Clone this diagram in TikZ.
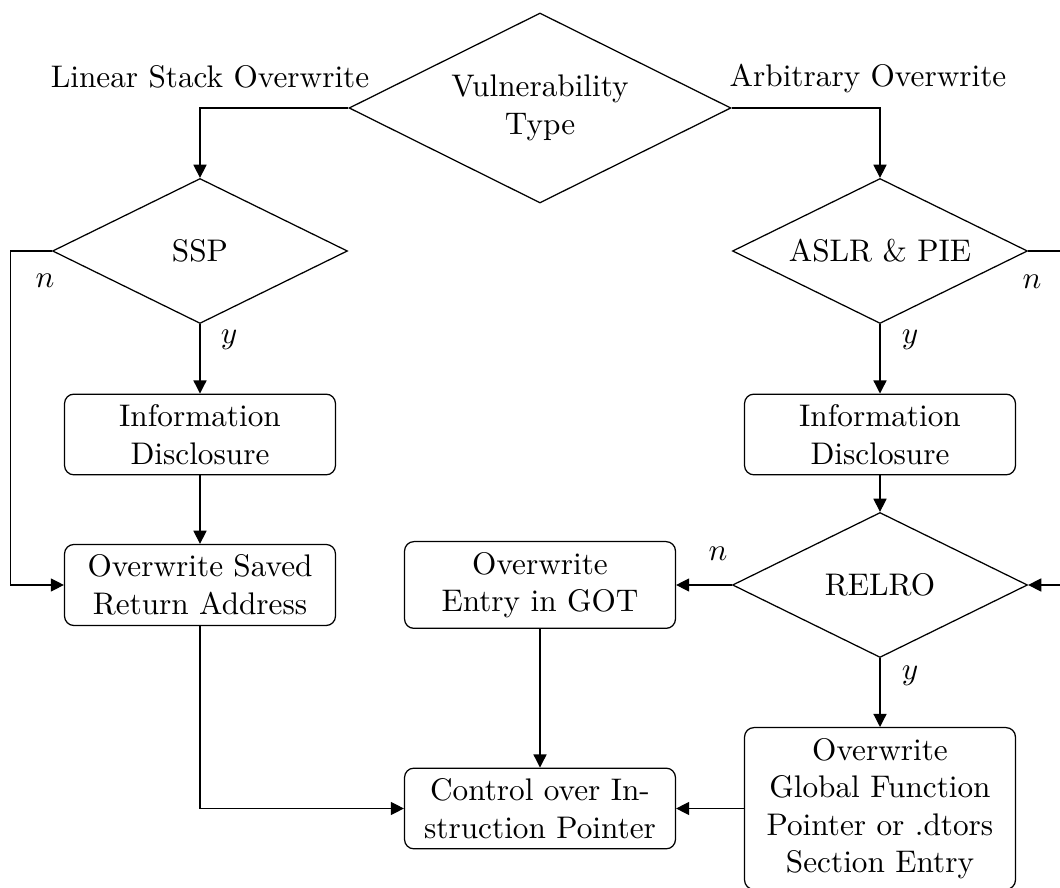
\documentclass[tikz,border=0pt]{standalone}
\usetikzlibrary{shapes.geometric,arrows.meta}
\begin{document}
\begin{tikzpicture}[x=0.32pt,y=-0.32pt,
  box/.style={draw, rounded corners=3pt, align=center, minimum width=86.7pt, inner sep=3.33pt},
  dec/.style={draw, diamond, aspect=2, align=center, minimum width=94.4pt, minimum height=46.4pt, inner sep=1pt},
  arr/.style={-{Triangle[length=4.2pt,width=4.2pt]}},
  lbl/.style={inner sep=0pt}]
\useasboundingbox (0,0) rectangle (1060,888);
\node[dec, minimum width=122.2pt, minimum height=60.8pt] (vt) at (540,108) {Vulnerability\\Type};
\node[dec] (ssp) at (200,251) {SSP};
\node[dec] (aslr) at (880,251) {ASLR \& PIE};
\node[box] (infoL) at (200,434.5) {Information\\Disclosure};
\node[box] (infoR) at (880,434.5) {Information\\Disclosure};
\node[dec] (relro) at (880,585) {RELRO};
\node[box] (ret) at (200,585) {Overwrite Saved\\Return Address};
\node[box] (got) at (540,585) {Overwrite\\Entry in GOT};
\node[box] (ctrl) at (540,808.5) {Control over In-\\struction Pointer};
\node[box] (glob) at (880,808.5) {Overwrite\\Global Function\\Pointer or .dtors\\Section Entry};
% labels
\node[lbl, anchor=base] (l1) at (210,88) {Linear Stack Overwrite};
\node[lbl, anchor=base] (l2) at (868,87) {Arbitrary Overwrite};
\node[lbl] (n1) at (45,281) {$n$};
\node[lbl] (y1) at (229,340) {$y$};
\node[lbl] (n2) at (1032,282) {$n$};
\node[lbl] (y2) at (910,340) {$y$};
\node[lbl] (n3) at (718,554) {$n$};
\node[lbl] (y3) at (910,676) {$y$};
% connectors
\draw[arr] (vt.west) -| (ssp.north);
\draw[arr] (vt.east) -| (aslr.north);
\draw[arr] (ssp.south) -- (infoL.north);
\draw[arr] (infoL.south) -- (ret.north);
\draw[arr] (ssp.west) -- ++(-41.5,0) |- (ret.west);
\draw[arr] (aslr.south) -- (infoR.north);
\draw[arr] (infoR.south) -- (relro.north);
\draw[arr] (aslr.east) -- ++(45,0) |- (relro.east);
\draw[arr] (relro.west) -- (got.east);
\draw[arr] (relro.south) -- (glob.north);
\draw[arr] (got.south) -- (ctrl.north);
\draw[arr] (ret.south) |- (ctrl.west);
\draw[arr] (glob.west) -- (ctrl.east);
\end{tikzpicture}
\end{document}
